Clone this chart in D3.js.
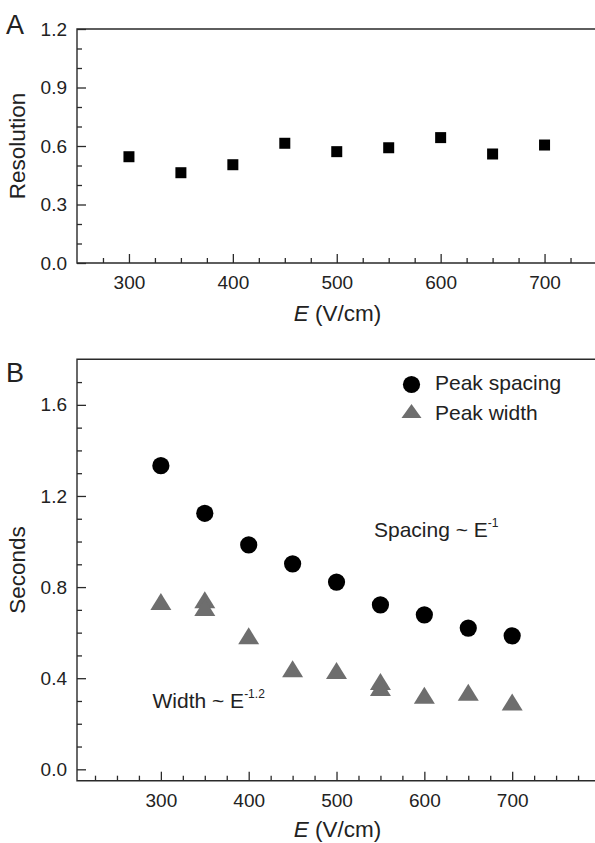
<!DOCTYPE html>
<html>
<head>
<meta charset="utf-8">
<script src="https://cdn.jsdelivr.net/npm/d3@7"></script>
<style>
  body { margin: 0; background: #fff; }
  text { font-family: "Liberation Sans", Arial, sans-serif; fill: #222; }
</style>
</head>
<body>
<script>
// panel A: resolution vs field
const fieldA = [300, 350, 400, 450, 500, 550, 600, 650, 700];
const resolution = [0.545, 0.463, 0.504, 0.614, 0.571, 0.591, 0.643, 0.559, 0.605];

// panel B: peak spacing / peak width vs field
const fieldSpacing = [300, 350, 400, 450, 500, 550, 600, 650, 700];
const peakSpacing = [1.333, 1.124, 0.985, 0.902, 0.822, 0.722, 0.678, 0.620, 0.586];
const fieldWidth = [300, 350, 350, 400, 450, 500, 550, 550, 600, 650, 700];
const peakWidth = [0.737, 0.744, 0.710, 0.586, 0.441, 0.434, 0.385, 0.359, 0.325, 0.338, 0.296];

const xTicks = [300, 400, 500, 600, 700];
const yTicksA = [0.0, 0.3, 0.6, 0.9, 1.2];
const yTicksB = [0.0, 0.4, 0.8, 1.2, 1.6];
const legendLabels = ["Peak spacing", "Peak width"];

const W = 595, H = 843;
const svg = d3.select("body").append("svg")
  .attr("width", W)
  .attr("height", H);

const frameColor = "#2a2a2a";
const triColor = "#6e6e6e";

function minorsBetween(lo, hi, step, majors) {
  let out = [];
  let n = Math.round((hi - lo) / step);
  for (let i = 0; i <= n; i++) {
    let v = +(lo + i * step).toFixed(4);
    if (!majors.some(m => Math.abs(m - v) < 1e-6)) out.push(v);
  }
  return out;
}

function drawFrame(x, y, top, bottom) {
  const x0 = x.range()[0], x1 = x.range()[1];
  // top, left, bottom lines (right edge runs off the page)
  svg.append("path")
    .attr("d", `M${x1},${top}H${x0}V${bottom}H${x1}`)
    .attr("fill", "none")
    .attr("stroke", frameColor)
    .attr("stroke-width", 1.4);
}

function drawAxes(x, y, bottom, left, xMinor, yMajor, yMinor, yFmt) {
  // x axis, ticks pointing inside
  svg.append("g")
    .attr("transform", `translate(0,${bottom})`)
    .call(d3.axisBottom(x).tickValues(xTicks).tickSizeInner(-9).tickSizeOuter(0).tickPadding(12.5))
    .call(g => g.select(".domain").remove())
    .call(g => g.selectAll("line").attr("stroke", frameColor).attr("stroke-width", 1.3))
    .call(g => g.selectAll("text").attr("font-size", "19px").attr("font-family", null).attr("fill", "#222"));
  svg.append("g")
    .attr("transform", `translate(0,${bottom})`)
    .call(d3.axisBottom(x).tickValues(xMinor).tickSizeInner(-5).tickSizeOuter(0).tickFormat(""))
    .call(g => g.select(".domain").remove())
    .call(g => g.selectAll("line").attr("stroke", frameColor).attr("stroke-width", 1.3));

  // y axis
  svg.append("g")
    .attr("transform", `translate(${left},0)`)
    .call(d3.axisLeft(y).tickValues(yMajor).tickFormat(yFmt).tickSizeInner(-9).tickSizeOuter(0).tickPadding(10))
    .call(g => g.select(".domain").remove())
    .call(g => g.selectAll("line").attr("stroke", frameColor).attr("stroke-width", 1.3))
    .call(g => g.selectAll("text").attr("font-size", "19px").attr("font-family", null).attr("fill", "#222"));
  svg.append("g")
    .attr("transform", `translate(${left},0)`)
    .call(d3.axisLeft(y).tickValues(yMinor).tickSizeInner(-5).tickSizeOuter(0).tickFormat(""))
    .call(g => g.select(".domain").remove())
    .call(g => g.selectAll("line").attr("stroke", frameColor).attr("stroke-width", 1.3));
}

function xTitle(cx, baseline) {
  const t = svg.append("text")
    .attr("x", cx)
    .attr("y", baseline)
    .attr("text-anchor", "middle")
    .attr("font-size", "22.5px");
  t.append("tspan").attr("font-style", "italic").text("E");
  t.append("tspan").text(" (V/cm)");
}

function yTitle(cx, cy, label) {
  svg.append("text")
    .attr("transform", `translate(${cx},${cy}) rotate(-90)`)
    .attr("text-anchor", "middle")
    .attr("font-size", "22.5px")
    .text(label);
}

const left = 77;

// ---------- Panel A ----------
const topA = 29, bottomA = 263;
const xA = d3.scaleLinear().domain([250, 750]).range([left, 596.5]);
const yA = d3.scaleLinear().domain([0, 1.2]).range([bottomA, topA]);

drawAxes(xA, yA, bottomA, left,
  minorsBetween(275, 750, 25, xTicks),
  yTicksA,
  minorsBetween(0, 1.2, 0.1, yTicksA),
  d3.format(".1f"));
drawFrame(xA, yA, topA, bottomA);

svg.append("g").selectAll("rect")
  .data(fieldA.map((e, i) => ({ e: e, v: resolution[i] })))
  .enter().append("rect")
  .attr("x", d => xA(d.e) - 5.5)
  .attr("y", d => yA(d.v) - 5.5)
  .attr("width", 11)
  .attr("height", 11)
  .attr("fill", "#000");

svg.append("text").attr("x", 6).attr("y", 34).attr("font-size", "27px").text("A");
yTitle(24.5, (topA + bottomA) / 2, "Resolution");
xTitle(337.5, 321);

// ---------- Panel B ----------
const topB = 359.3, bottomB = 780.7;
const xB = d3.scaleLinear().domain([204.5, 800]).range([left, 600]);
const yB = d3.scaleLinear().domain([-0.05, 1.8]).range([bottomB, topB]);

drawAxes(xB, yB, bottomB, left,
  minorsBetween(225, 775, 25, xTicks),
  yTicksB,
  minorsBetween(0, 1.7, 0.1, yTicksB),
  d3.format(".1f"));
drawFrame(xB, yB, topB, bottomB);

const triPath = "M0,-8.5L10.5,8.5L-10.5,8.5Z";

svg.append("g").selectAll("path")
  .data(fieldWidth.map((e, i) => ({ e: e, v: peakWidth[i] })))
  .enter().append("path")
  .attr("d", triPath)
  .attr("transform", d => `translate(${xB(d.e)},${yB(d.v)})`)
  .attr("fill", triColor);

svg.append("g").selectAll("circle")
  .data(fieldSpacing.map((e, i) => ({ e: e, v: peakSpacing[i] })))
  .enter().append("circle")
  .attr("cx", d => xB(d.e))
  .attr("cy", d => yB(d.v))
  .attr("r", 8.6)
  .attr("fill", "#000");

// legend
const legend = svg.append("g").attr("transform", "translate(411.5,384.5)");
legend.append("circle").attr("cx", 0).attr("cy", 0).attr("r", 8.6).attr("fill", "#000");
legend.append("path").attr("d", "M0,-7L10,7L-10,7Z").attr("transform", "translate(0,26.5)").attr("fill", triColor);
legend.selectAll("text.lbl")
  .data(legendLabels)
  .enter().append("text")
  .attr("class", "lbl")
  .attr("x", 23.5)
  .attr("y", (d, i) => 5.5 + i * 29.5)
  .attr("font-size", "21px")
  .text(d => d);

// annotations
const ann1 = svg.append("text").attr("x", 374).attr("y", 537).attr("font-size", "21px");
ann1.append("tspan").text("Spacing ~ E");
ann1.append("tspan").attr("font-size", "12px").attr("dy", -10).text("-1");

const ann2 = svg.append("text").attr("x", 152.5).attr("y", 708).attr("font-size", "21px");
ann2.append("tspan").text("Width ~ E");
ann2.append("tspan").attr("font-size", "12px").attr("dy", -10).text("-1.2");

svg.append("text").attr("x", 6).attr("y", 382).attr("font-size", "27px").text("B");
yTitle(24.5, (topB + bottomB) / 2, "Seconds");
xTitle(337.5, 837);
</script>
</body>
</html>
